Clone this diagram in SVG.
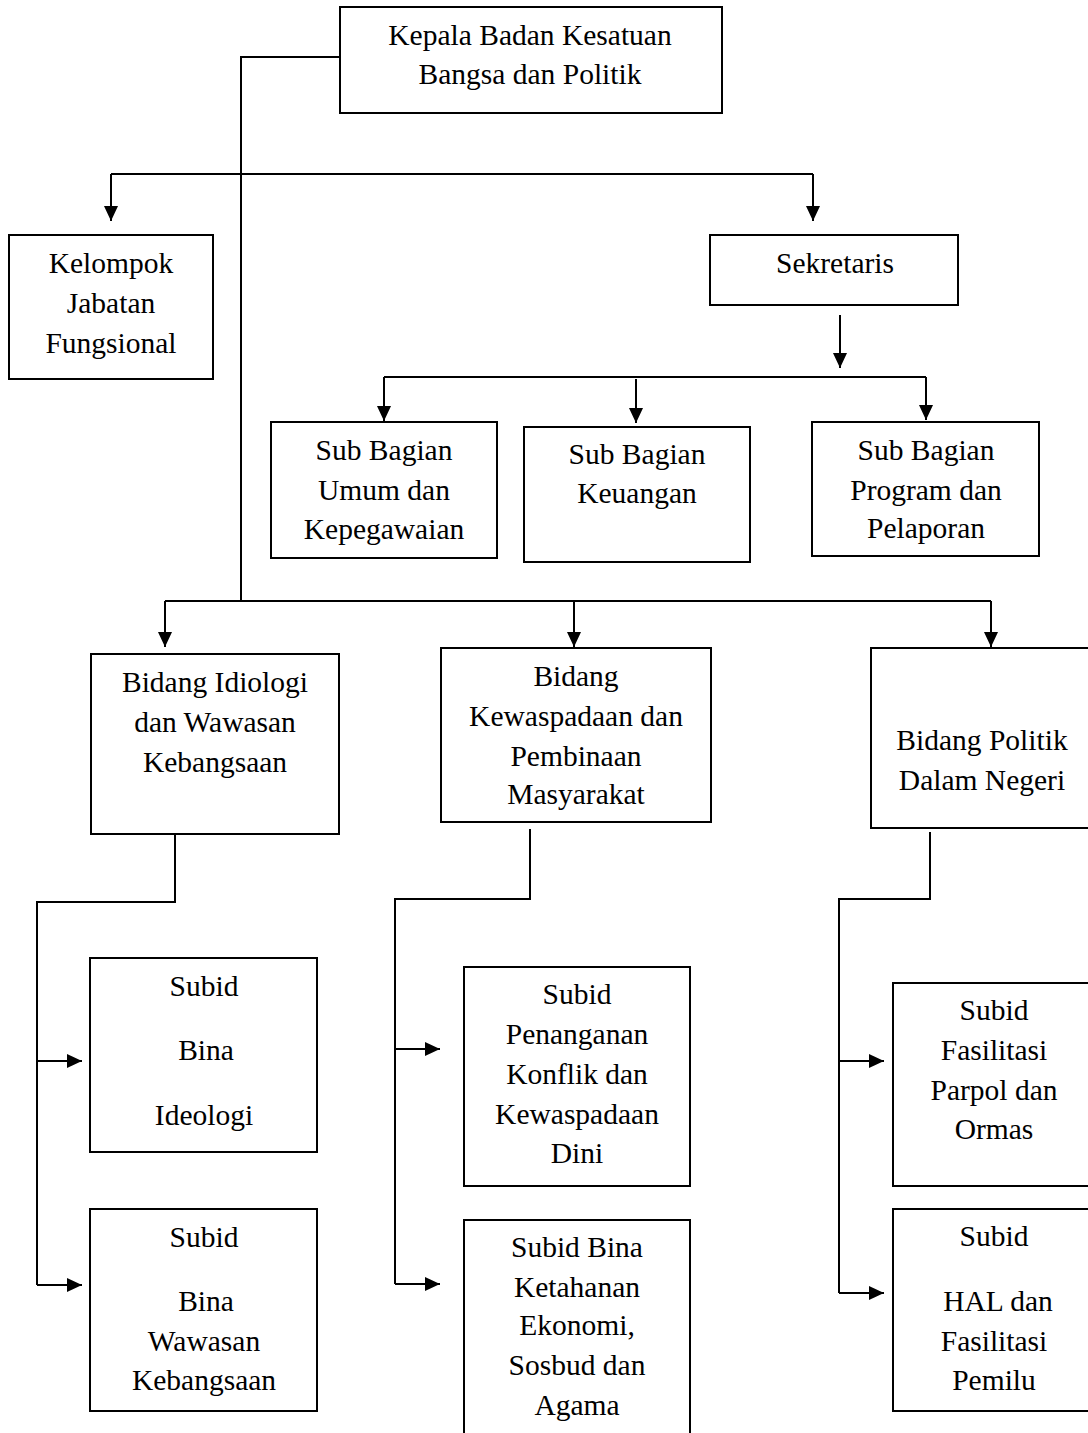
<svg xmlns="http://www.w3.org/2000/svg" width="1088" height="1433" viewBox="0 0 1088 1433">
<defs>
<style>
.box{fill:#fff;stroke:#000;stroke-width:2}
.ln{fill:none;stroke:#000;stroke-width:2}
.ar{fill:none;stroke:#000;stroke-width:2;marker-end:url(#ah)}
text{font-family:"Liberation Serif","Times New Roman",serif;font-size:29.5px;fill:#000;text-anchor:middle}
</style>
<marker id="ah" markerUnits="userSpaceOnUse" markerWidth="15" markerHeight="14" refX="15" refY="7" orient="auto">
<path d="M0,0 L15,7 L0,14 z" fill="#000"/>
</marker>
</defs>
<rect width="1088" height="1433" fill="#fff"/>
<g id="connectors">
<polyline class="ln" points="340,57 241,57 241,601"/>
<line class="ln" x1="111" y1="174" x2="813" y2="174"/>
<line class="ar" x1="111" y1="174" x2="111" y2="221"/>
<line class="ar" x1="813" y1="174" x2="813" y2="221"/>
<line class="ar" x1="840" y1="315" x2="840" y2="368"/>
<line class="ln" x1="384" y1="377" x2="926" y2="377"/>
<line class="ar" x1="384" y1="377" x2="384" y2="421"/>
<line class="ar" x1="636" y1="379" x2="636" y2="423"/>
<line class="ar" x1="926" y1="377" x2="926" y2="420"/>
<line class="ln" x1="165" y1="601" x2="991" y2="601"/>
<line class="ar" x1="165" y1="601" x2="165" y2="647"/>
<line class="ar" x1="574" y1="601" x2="574" y2="647"/>
<line class="ar" x1="991" y1="601" x2="991" y2="647"/>
<polyline class="ln" points="175,834 175,902 37,902 37,1285"/>
<line class="ar" x1="37" y1="1061" x2="82" y2="1061"/>
<line class="ar" x1="37" y1="1285" x2="82" y2="1285"/>
<polyline class="ln" points="530,829 530,899 395,899 395,1284"/>
<line class="ar" x1="395" y1="1049" x2="440" y2="1049"/>
<line class="ar" x1="395" y1="1284" x2="440" y2="1284"/>
<polyline class="ln" points="930,832 930,899 839,899 839,1293"/>
<line class="ar" x1="839" y1="1061" x2="884" y2="1061"/>
<line class="ar" x1="839" y1="1293" x2="884" y2="1293"/>
</g>
<g id="kepala">
<rect class="box" x="340" y="7" width="382" height="106"/>
<text x="530" y="45">Kepala Badan Kesatuan</text>
<text x="530" y="84">Bangsa dan Politik</text>
</g>
<g id="kelompok">
<rect class="box" x="9" y="235" width="204" height="144"/>
<text x="111" y="273">Kelompok</text>
<text x="111" y="313">Jabatan</text>
<text x="111" y="353">Fungsional</text>
</g>
<g id="sekretaris">
<rect class="box" x="710" y="235" width="248" height="70"/>
<text x="835" y="273">Sekretaris</text>
</g>
<g id="sub-umum">
<rect class="box" x="271" y="422" width="226" height="136"/>
<text x="384" y="460">Sub Bagian</text>
<text x="384" y="500">Umum dan</text>
<text x="384" y="539">Kepegawaian</text>
</g>
<g id="sub-keuangan">
<rect class="box" x="524" y="427" width="226" height="135"/>
<text x="637" y="464">Sub Bagian</text>
<text x="637" y="503">Keuangan</text>
</g>
<g id="sub-program">
<rect class="box" x="812" y="422" width="227" height="134"/>
<text x="926" y="460">Sub Bagian</text>
<text x="926" y="500">Program dan</text>
<text x="926" y="538">Pelaporan</text>
</g>
<g id="bidang-idiologi">
<rect class="box" x="91" y="654" width="248" height="180"/>
<text x="215" y="692">Bidang Idiologi</text>
<text x="215" y="732">dan Wawasan</text>
<text x="215" y="772">Kebangsaan</text>
</g>
<g id="bidang-kewaspadaan">
<rect class="box" x="441" y="648" width="270" height="174"/>
<text x="576" y="686">Bidang</text>
<text x="576" y="726">Kewaspadaan dan</text>
<text x="576" y="766">Pembinaan</text>
<text x="576" y="804">Masyarakat</text>
</g>
<g id="bidang-politik">
<rect class="box" x="871" y="648" width="224" height="180"/>
<text x="982" y="750">Bidang Politik</text>
<text x="982" y="790">Dalam Negeri</text>
</g>
<g id="subid-ideologi">
<rect class="box" x="90" y="958" width="227" height="194"/>
<text x="204" y="996">Subid</text>
<text x="206" y="1060">Bina</text>
<text x="204" y="1125">Ideologi</text>
</g>
<g id="subid-wawasan">
<rect class="box" x="90" y="1209" width="227" height="202"/>
<text x="204" y="1247">Subid</text>
<text x="206" y="1311">Bina</text>
<text x="204" y="1351">Wawasan</text>
<text x="204" y="1390">Kebangsaan</text>
</g>
<g id="subid-konflik">
<rect class="box" x="464" y="967" width="226" height="219"/>
<text x="577" y="1004">Subid</text>
<text x="577" y="1044">Penanganan</text>
<text x="577" y="1084">Konflik dan</text>
<text x="577" y="1124">Kewaspadaan</text>
<text x="577" y="1163">Dini</text>
</g>
<g id="subid-ketahanan">
<rect class="box" x="464" y="1220" width="226" height="230"/>
<text x="577" y="1257">Subid Bina</text>
<text x="577" y="1297">Ketahanan</text>
<text x="577" y="1335">Ekonomi,</text>
<text x="577" y="1375">Sosbud dan</text>
<text x="577" y="1415">Agama</text>
</g>
<g id="subid-parpol">
<rect class="box" x="893" y="983" width="202" height="203"/>
<text x="994" y="1020">Subid</text>
<text x="994" y="1060">Fasilitasi</text>
<text x="994" y="1100">Parpol dan</text>
<text x="994" y="1139">Ormas</text>
</g>
<g id="subid-pemilu">
<rect class="box" x="893" y="1209" width="202" height="202"/>
<text x="994" y="1246">Subid</text>
<text x="998" y="1311">HAL dan</text>
<text x="994" y="1351">Fasilitasi</text>
<text x="994" y="1390">Pemilu</text>
</g>
</svg>
